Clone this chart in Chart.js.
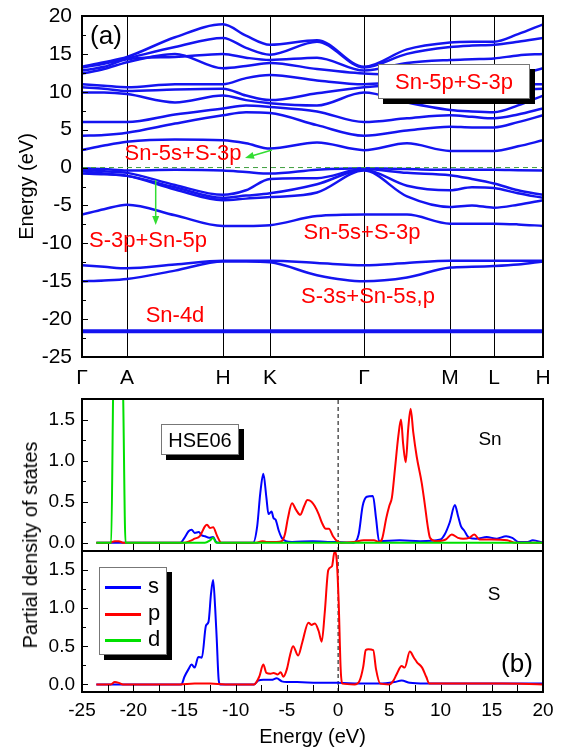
<!DOCTYPE html>
<html>
<head>
<meta charset="utf-8">
<script src="https://cdn.jsdelivr.net/npm/chart.js@4.4.1/dist/chart.umd.min.js"></script>
<style>
  body { margin: 0; background: #fff; }
  #wrap { position: relative; width: 565px; height: 753px; overflow: hidden;
          font-family: 'Liberation Sans', Arial, sans-serif; }
  #wrap canvas { position: absolute; left: 0; }
  .c { position: absolute; transform: translate(-50%, -50%); white-space: nowrap; line-height: 1; }
  .red { color: #ff0000; font-size: 22px; }
  .box { position: absolute; background: #fff; border: 1px solid #777; box-shadow: 5px 5px 0 #000; box-sizing: border-box; }
  .lg { position: absolute; left: 5px; font-size: 22px; line-height: 1; transform: translateY(-50%); }
  .lg span { display: inline-block; width: 36px; height: 3px; vertical-align: middle; margin-right: 7px; }
</style>
</head>
<body>
<div id="wrap">
  <canvas id="bands" width="565" height="395" style="top:0"></canvas>
  <canvas id="pdosSn" width="565" height="185" style="top:380px"></canvas>
  <canvas id="pdosS" width="565" height="218" style="top:535px"></canvas>

  <div class="c" style="left:106px;top:35px;font-size:26px">(a)</div>
  <div class="c red" style="left:183px;top:153px">Sn-5s+S-3p</div>
  <div class="c red" style="left:148px;top:240px">S-3p+Sn-5p</div>
  <div class="c red" style="left:362px;top:232px">Sn-5s+S-3p</div>
  <div class="c red" style="left:368px;top:296px">S-3s+Sn-5s,p</div>
  <div class="c red" style="left:175px;top:315px">Sn-4d</div>
  <div class="box" style="left:378px;top:64px;width:152px;height:35px">
    <div class="c red" style="left:50%;top:50%">Sn-5p+S-3p</div>
  </div>

  <div class="box" style="left:161px;top:424px;width:78px;height:31px">
    <div class="c" style="left:50%;top:50%;font-size:20px">HSE06</div>
  </div>
  <div class="c" style="left:490px;top:438px;font-size:19px">Sn</div>
  <div class="c" style="left:494px;top:593px;font-size:19px">S</div>
  <div class="c" style="left:517px;top:663px;font-size:26px">(b)</div>
  <div class="box" style="left:99px;top:567px;width:68px;height:88px">
    <div class="lg" style="top:18px"><span style="background:#0000ff"></span>s</div>
    <div class="lg" style="top:45px"><span style="background:#ff0000"></span>p</div>
    <div class="lg" style="top:71px"><span style="background:#00e000"></span>d</div>
  </div>
  <div class="c" style="left:30px;top:545px;font-size:20px;transform:translate(-50%,-50%) rotate(-90deg)">Partial density of states</div>
</div>

<script>
// ---- band structure (a) ----
const kGrid = [0, 22, 45, 93, 141, 164, 188, 235, 282, 325, 368, 390, 412, 436, 461];
const kTicks = [0, 45, 141, 188, 282, 368, 412, 461];
const kLabels = ['Γ', 'A', 'H', 'K', 'Γ', 'M', 'L', 'H'];
const energyTicks = [-25, -20, -15, -10, -5, 0, 5, 10, 15, 20];

// energies (eV) at kGrid: Γ, -, A, -, H, -, K, -, Γ, -, M, -, L, -, H
const cb1 = [2.3, 2.9, 3.4, 3.7, 3.6, 3.2, 2.5, 3.3, 2.3, 3.2, 2.2, 2.2, 2.2, 2.8, 3.6];
const cb2 = [4.2, 4.3, 4.6, 5.8, 6.9, 7.3, 7.2, 5.6, 4.2, 4.9, 5.4, 5.3, 5.3, 6.0, 6.9];
const cb3 = [6.0, 6.0, 6.0, 7.0, 7.8, 8.2, 8.0, 7.4, 6.0, 6.5, 6.9, 6.7, 6.5, 7.0, 7.8];
const cb4 = [9.9, 9.9, 9.7, 8.6, 9.5, 8.9, 8.5, 8.2, 9.9, 8.6, 7.6, 7.4, 7.3, 8.2, 9.5];
const cb5 = [10.6, 10.4, 10.1, 10.3, 10.4, 9.5, 8.9, 9.8, 10.6, 10.9, 10.7, 10.4, 10.2, 10.3, 10.4];
const cb6 = [11.0, 10.8, 10.6, 11.0, 11.0, 11.8, 12.2, 11.5, 11.0, 11.3, 11.0, 11.0, 11.0, 11.0, 11.0];
const cb7 = [12.4, 13.0, 13.9, 15.0, 13.1, 13.4, 13.8, 13.0, 12.4, 12.2, 11.8, 11.6, 11.4, 12.2, 13.1];
const cb8 = [12.8, 13.3, 14.3, 14.6, 15.0, 14.5, 14.2, 14.5, 12.8, 13.8, 14.2, 14.3, 14.4, 14.8, 15.0];
const cb9 = [13.2, 13.7, 14.4, 15.9, 17.1, 15.8, 14.9, 16.6, 13.2, 15.0, 15.9, 16.1, 16.2, 16.6, 17.1];
const cb10 = [13.3, 13.9, 14.6, 17.2, 18.9, 17.4, 16.2, 16.8, 13.3, 15.6, 16.5, 16.6, 16.6, 17.6, 18.9];
const vb1 = [-0.1, -0.2, -0.4, -0.3, -0.4, -0.6, -0.8, -0.3, -0.1, -0.2, -0.3, -0.3, -0.3, -0.35, -0.4];
const vb2 = [-0.3, -0.5, -0.7, -2.3, -3.6, -3.0, -1.5, -1.4, -0.2, -0.7, -1.0, -1.5, -2.1, -3.0, -3.6];
const vb3 = [-0.5, -0.8, -1.1, -2.6, -4.0, -3.7, -3.4, -2.2, -0.3, -2.4, -3.0, -2.6, -2.7, -3.4, -4.0];
const vb4 = [-0.8, -0.9, -1.1, -2.9, -4.3, -4.1, -3.9, -3.3, -0.4, -3.8, -5.2, -5.0, -5.3, -4.9, -4.3];
const vb5 = [-6.2, -5.5, -4.9, -6.3, -7.7, -7.7, -7.6, -6.4, -6.2, -6.2, -7.4, -7.4, -7.4, -7.5, -7.7];
const s3s1 = [-12.9, -13.1, -13.3, -12.8, -12.3, -12.3, -12.3, -12.6, -12.9, -12.6, -12.3, -12.3, -12.3, -12.3, -12.3];
const s3s2 = [-15.0, -14.9, -14.7, -13.6, -12.4, -12.4, -12.5, -14.2, -15.0, -14.5, -13.2, -13.1, -13.0, -12.8, -12.4];
const sn4d1 = [-21.5, -21.5, -21.5, -21.5, -21.5, -21.5, -21.5, -21.5, -21.5, -21.5, -21.5, -21.5, -21.5, -21.5, -21.5];
const sn4d2 = [-21.7, -21.7, -21.7, -21.7, -21.7, -21.7, -21.7, -21.7, -21.7, -21.7, -21.7, -21.7, -21.7, -21.7, -21.7];
const fermiLevel = 0;

// ---- partial DOS (b) ----
const pdosXTicks = [-25, -20, -15, -10, -5, 0, 5, 10, 15, 20];
const pdosYTicks = [0, 0.5, 1.0, 1.5];

const snSE = [-23.6, -15.4, -15.0, -14.6, -14.3, -14.0, -13.6, -13.3, -13.0, -12.6, -12.2, -11.9, -11.6, -8.3, -7.9, -7.6, -7.3, -7.0, -6.8, -6.5, -6.3, -6.1, -5.8, -5.5, -5.1, -4.5, -2.5, -1.0, 0.0, 1.5, 2.0, 2.4, 2.8, 3.4, 3.7, 4.0, 6.0, 8.0, 10.0, 10.4, 10.9, 11.4, 11.7, 12.0, 12.3, 12.8, 13.5, 14.5, 15.5, 16.4, 17.0, 17.6, 18.5, 19.0, 20.0];
const snS = [0, 0, 0.06, 0.14, 0.16, 0.12, 0.13, 0.09, 0.08, 0.06, 0.07, 0.01, 0, 0, 0.2, 0.6, 0.84, 0.55, 0.35, 0.38, 0.3, 0.28, 0.15, 0.06, 0.02, 0.01, 0.02, 0.01, 0.01, 0, 0.1, 0.45, 0.56, 0.57, 0.3, 0.02, 0.03, 0.02, 0.04, 0.1, 0.25, 0.46, 0.33, 0.2, 0.15, 0.06, 0.05, 0.07, 0.05, 0.08, 0.06, 0.01, 0.01, 0.03, 0];
const snPE = [-23.6, -22.3, -21.8, -21.4, -21.0, -15.0, -14.5, -14.0, -13.5, -13.0, -12.8, -12.5, -12.2, -11.8, -11.4, -8.0, -7.4, -7.0, -6.0, -5.5, -5.2, -4.9, -4.5, -4.1, -3.7, -3.3, -3.0, -2.6, -2.3, -1.9, -1.6, -1.2, -0.9, -0.5, -0.1, 0.3, 1.5, 2.5, 3.5, 4.0, 4.3, 4.7, 5.0, 5.25, 5.55, 5.88, 6.14, 6.35, 6.6, 6.85, 7.08, 7.34, 7.67, 8.16, 8.48, 8.75, 8.97, 9.5, 10.5, 11.1, 11.7, 12.2, 12.8, 13.3, 13.8, 15.0, 16.5, 17.3, 20.0];
const snP = [0, 0, 0.02, 0.02, 0, 0, 0.02, 0.05, 0.08, 0.2, 0.22, 0.18, 0.19, 0.08, 0, 0, 0.02, 0.01, 0.01, 0.02, 0.1, 0.3, 0.48, 0.4, 0.34, 0.45, 0.52, 0.5, 0.45, 0.35, 0.25, 0.17, 0.17, 0.08, 0.02, 0, 0.01, 0.03, 0.03, 0.01, 0.05, 0.3, 0.45, 0.55, 0.9, 1.3, 1.5, 1.2, 0.98, 1.4, 1.63, 1.34, 1.05, 0.73, 0.45, 0.2, 0.06, 0.02, 0.04, 0.1, 0.06, 0.05, 0.06, 0.1, 0.04, 0.04, 0.03, 0, 0];
const snDE = [-23.6, -22.3, -22.15, -21.95, -21.5, -21.0, -20.75, -20.6, -13.0, -12.5, -12.2, -11.9, 20.0];
const snD = [0, 0, 0, 1.9, 3.5, 1.9, 0, 0, 0, 0.03, 0.06, 0, 0];

const sSE = [-23.6, -15.3, -15.0, -14.6, -14.3, -14.0, -13.65, -13.3, -12.9, -12.65, -12.4, -12.2, -12.0, -11.85, -11.65, -11.5, -8.2, -7.8, -7.3, -6.5, -6.0, -5.5, -5.0, -4.0, -2.0, 0.0, 2.0, 4.0, 5.5, 6.2, 7.0, 8.5, 10.0, 15.0, 20.0];
const sS = [0, 0, 0.1, 0.2, 0.26, 0.22, 0.36, 0.35, 0.77, 0.82, 1.2, 1.37, 1.0, 0.6, 0.05, 0, 0, 0.05, 0.06, 0.06, 0.08, 0.04, 0.03, 0.03, 0.02, 0.02, 0.01, 0.01, 0.03, 0.05, 0.02, 0.01, 0.01, 0.01, 0.01];
const sPE = [-23.6, -22.2, -21.8, -21.4, -21.0, -15.5, -14.0, -12.5, -11.0, -8.2, -7.7, -7.3, -7.0, -6.6, -6.3, -5.9, -5.6, -5.35, -5.0, -4.7, -4.4, -3.9, -3.5, -2.9, -2.6, -2.26, -1.9, -1.6, -1.3, -0.96, -0.6, -0.35, -0.15, 0.05, 0.25, 0.4, 1.6, 2.1, 2.45, 2.7, 2.94, 3.43, 3.7, 4.1, 5.0, 5.4, 5.7, 6.2, 6.5, 7.0, 7.4, 7.7, 8.2, 8.6, 8.9, 12.0, 16.0, 20.0];
const sP = [0, 0, 0.03, 0.02, 0, 0, 0.01, 0.01, 0, 0, 0.1, 0.26, 0.15, 0.14, 0.15, 0.13, 0.16, 0.1, 0.2, 0.38, 0.5, 0.38, 0.55, 0.81, 0.78, 0.8, 0.7, 0.56, 0.95, 1.5, 1.55, 1.74, 1.65, 1.1, 0.2, 0.01, 0, 0.05, 0.23, 0.45, 0.46, 0.45, 0.2, 0.01, 0, 0.05, 0.13, 0.24, 0.22, 0.43, 0.35, 0.29, 0.22, 0.1, 0.01, 0.01, 0.01, 0];

Chart.defaults.font.family = "'Liberation Sans', Arial, sans-serif";
Chart.defaults.color = '#000';

const BLUE = '#0000ff', RED = '#ff0000', GREEN = '#00e000';

// inward ticks + frame
const frameTicks = {
    id: 'frameTicks',
    afterDatasetsDraw(chart, args, o) {
        const { ctx, chartArea: a, scales } = chart;
        ctx.save();
        ctx.strokeStyle = '#000';
        ctx.lineWidth = 1;
        ctx.beginPath();
        if (o.yMinor) {
            const s = scales.y;
            for (let v = Math.ceil(s.min / o.yMinor) * o.yMinor; v <= s.max + 1e-9; v += o.yMinor) {
                const p = Math.round(s.getPixelForValue(v)) + 0.5;
                const major = Math.abs(v / o.yMajor - Math.round(v / o.yMajor)) < 1e-6;
                ctx.moveTo(a.left, p);
                ctx.lineTo(a.left + (major ? 6 : 4), p);
            }
        }
        if (o.xMinor) {
            const s = scales.x;
            for (let v = Math.ceil(s.min / o.xMinor) * o.xMinor; v <= s.max + 1e-9; v += o.xMinor) {
                const p = Math.round(s.getPixelForValue(v)) + 0.5;
                ctx.moveTo(p, a.bottom);
                ctx.lineTo(p, a.bottom - 7);
            }
        }
        ctx.stroke();
        ctx.lineWidth = 2;
        ctx.strokeRect(a.left, a.top, a.right - a.left, a.bottom - a.top);
        ctx.restore();
    }
};

// green arrows in band panel, given in (k, E)
const arrows = {
    id: 'arrows',
    afterDatasetsDraw(chart, args, o) {
        const { ctx, scales: { x, y } } = chart;
        ctx.save();
        ctx.strokeStyle = '#33dd33';
        ctx.fillStyle = '#33dd33';
        ctx.lineWidth = 1.5;
        (o.list || []).forEach(([k0, e0, k1, e1]) => {
            const x0 = x.getPixelForValue(k0), y0 = y.getPixelForValue(e0);
            const x1 = x.getPixelForValue(k1), y1 = y.getPixelForValue(e1);
            const ang = Math.atan2(y1 - y0, x1 - x0);
            ctx.beginPath();
            ctx.moveTo(x0, y0);
            ctx.lineTo(x1 - 6 * Math.cos(ang), y1 - 6 * Math.sin(ang));
            ctx.stroke();
            ctx.beginPath();
            ctx.moveTo(x1, y1);
            ctx.lineTo(x1 - 9 * Math.cos(ang) + 3.5 * Math.sin(ang), y1 - 9 * Math.sin(ang) - 3.5 * Math.cos(ang));
            ctx.lineTo(x1 - 9 * Math.cos(ang) - 3.5 * Math.sin(ang), y1 - 9 * Math.sin(ang) + 3.5 * Math.cos(ang));
            ctx.closePath();
            ctx.fill();
        });
        ctx.restore();
    }
};

function pts(xs, ys) {
    return xs.map((v, i) => ({ x: v, y: ys[i] }));
}

function line(data, color, width, extra) {
    return Object.assign({
        data: data,
        borderColor: color,
        borderWidth: width,
        pointRadius: 0,
        fill: false,
        cubicInterpolationMode: 'monotone'
    }, extra || {});
}

// ---- chart (a) ----
const bandList = [cb1, cb2, cb3, cb4, cb5, cb6, cb7, cb8, cb9, cb10, vb1, vb2, vb3, vb4, vb5, s3s1, s3s2];
const bandSets = [
    line([{ x: kGrid[0], y: fermiLevel }, { x: kGrid[kGrid.length - 1], y: fermiLevel }], '#3f9f3f', 1, { borderDash: [5, 4] })
];
bandList.forEach(b => bandSets.push(line(pts(kGrid, b), '#1414f0', 2.5)));
bandSets.push(line(pts(kGrid, sn4d1), '#1414f0', 2.5));
bandSets.push(line(pts(kGrid, sn4d2), '#1414f0', 2.5));

new Chart(document.getElementById('bands'), {
    type: 'line',
    data: { datasets: bandSets },
    options: {
        responsive: false,
        animation: false,
        events: [],
        layout: { padding: { left: 0, top: 16, right: 22, bottom: 0 } },
        plugins: {
            legend: { display: false },
            tooltip: { enabled: false },
            frameTicks: { yMinor: 2.5, yMajor: 5 },
            arrows: { list: [[190, 2.32, 163, 1.26], [73.7, -1.64, 73.7, -7.58]] }
        },
        scales: {
            x: {
                type: 'linear',
                min: kTicks[0],
                max: kTicks[kTicks.length - 1],
                afterBuildTicks: s => { s.ticks = kTicks.map(v => ({ value: v })); },
                afterFit: s => { s.height = 38; },
                ticks: {
                    autoSkip: false, maxRotation: 0, padding: 9,
                    font: { size: 21 },
                    callback: (v, i) => kLabels[i]
                },
                grid: { color: '#000', lineWidth: 1, drawTicks: false },
                border: { display: false }
            },
            y: {
                min: -25,
                max: 20,
                afterBuildTicks: s => { s.ticks = energyTicks.map(v => ({ value: v })); },
                afterFit: s => { s.width = 82; },
                ticks: { padding: 0, font: { size: 21 }, callback: v => String(v) },
                grid: { display: false, drawTicks: true, tickLength: 10 },
                border: { display: false },
                title: { display: true, text: 'Energy (eV)', font: { size: 20 }, padding: { top: 15, bottom: 0 } }
            }
        }
    },
    plugins: [frameTicks, arrows]
});

// ---- chart (b) ----
function pdosChart(id, sets, padTop, padBottom, showX, xHeight) {
    return new Chart(document.getElementById(id), {
        type: 'line',
        data: { datasets: sets },
        options: {
            responsive: false,
            animation: false,
            events: [],
            layout: { padding: { left: 0, top: padTop, right: 22, bottom: padBottom } },
            plugins: {
                legend: { display: false },
                tooltip: { enabled: false },
                frameTicks: { yMinor: 0.25, yMajor: 0.5, xMinor: 2.5 }
            },
            scales: {
                x: {
                    type: 'linear',
                    min: -25,
                    max: 20,
                    display: showX,
                    afterBuildTicks: s => { s.ticks = pdosXTicks.map(v => ({ value: v })); },
                    afterFit: s => { s.height = xHeight; },
                    ticks: { autoSkip: false, maxRotation: 0, padding: 7, font: { size: 19 }, callback: v => String(v) },
                    grid: { display: false, drawTicks: false },
                    border: { display: false },
                    title: { display: true, text: 'Energy (eV)', font: { size: 20 }, padding: { top: 0, bottom: 4 } }
                },
                y: {
                    min: -0.1,
                    max: 1.75,
                    afterBuildTicks: s => { s.ticks = pdosYTicks.map(v => ({ value: v })); },
                    afterFit: s => { s.width = 82; },
                    ticks: { padding: 0, font: { size: 19 }, callback: v => v.toFixed(1) },
                    grid: { display: false, drawTicks: true, tickLength: 7 },
                    border: { display: false }
                }
            }
        },
        plugins: [frameTicks]
    });
}

const zeroLine = () => line([{ x: fermiLevel, y: -0.1 }, { x: fermiLevel, y: 1.75 }], '#000', 1, { borderDash: [4, 3], cubicInterpolationMode: 'default' });

pdosChart('pdosSn', [
    line(pts(snDE, snD), GREEN, 2),
    line(pts(snPE, snP), RED, 2),
    line(pts(snSE, snS), BLUE, 2),
    zeroLine()
], 19, 14, false, 0);

pdosChart('pdosS', [
    line(pts(sPE, sP), RED, 2),
    line(pts(sSE, sS), BLUE, 2),
    zeroLine()
], 16, 0, true, 61);
</script>
</body>
</html>
